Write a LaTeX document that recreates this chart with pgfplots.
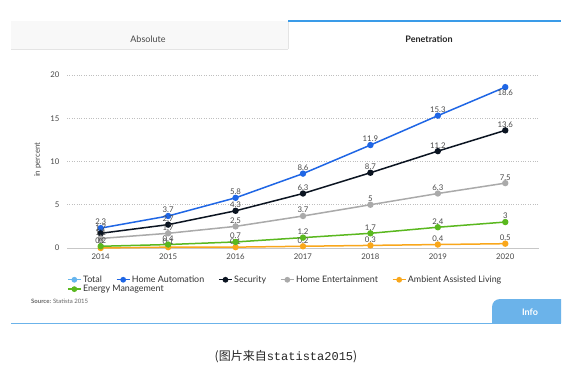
\documentclass[border=0pt]{standalone}
\usepackage{fontspec}
\setmainfont{Lato}
\newfontfamily\cjk{Noto Sans CJK SC}
\newfontfamily\monof{Liberation Mono}
\usepackage{pgfplots}
\pgfplotsset{compat=1.18}
\definecolor{cblue}{RGB}{31,102,229}
\definecolor{cnavy}{RGB}{11,20,33}
\definecolor{cgray}{RGB}{170,170,170}
\definecolor{corange}{RGB}{249,167,27}
\definecolor{cgreen}{RGB}{90,184,31}
\definecolor{ctotal}{RGB}{102,181,238}
\definecolor{ctxt}{RGB}{72,72,72}
\definecolor{tabbg}{RGB}{248,248,248}
\definecolor{tabline}{RGB}{228,228,228}
\definecolor{topblue}{RGB}{58,155,232}
\definecolor{infoc}{RGB}{107,179,234}
\begin{document}
\begin{tikzpicture}[x=1pt,y=1pt]
\useasboundingbox (0,0) rectangle (580,375);
\fill[white] (0,0) rectangle (580,375);
% card
\fill[tabbg] (11,326) rectangle (288,354);
\draw[tabline, line width=0.8pt] (11,326) -- (288,326);
\draw[tabline, line width=0.6pt] (288,326) -- (288,354);
\draw[topblue, line width=1.4pt] (288,354) -- (561,354);
\node[font=\fontsize{9}{10}\selectfont, text=ctxt] at (148,336) {Absolute};
\node[font=\fontsize{9}{10}\selectfont\bfseries, text=black!85] at (429,336) {Penetration};
% info
\fill[infoc] (492,52) -- (492,68) arc[start angle=180, end angle=90, radius=8] -- (561,76) -- (561,52) -- cycle;
\draw[infoc, line width=1pt] (11,52) -- (561,52);
\node[font=\fontsize{9}{10}\selectfont\bfseries, text=white] at (530,63) {Info};
\node[anchor=west, font=\fontsize{6}{7}\selectfont, text=black!60, inner sep=0] at (31,74) {\textbf{Source:} Statista 2015};
\node[font=\fontsize{12}{14}\selectfont, text=black!85] at (286,18) {{\cjk (图片来自}{\monof statista2015}{\cjk )}};
\begin{axis}[
  at={(67pt,127pt)}, anchor=south west,
  scale only axis, width=472pt, height=173pt,
  xmin=2013.5, xmax=2020.5, ymin=0, ymax=20,
  axis lines=left,
  y axis line style={draw=none},
  x axis line style={draw=black!22, line width=1pt, -},
  major tick length=0pt,
  xtick={2014,...,2020}, ytick={0,5,10,15,20},
  ymajorgrids, grid style={black!25, dotted, line width=0.8pt},
  /pgf/number format/assume math mode=true,
  /pgf/number format/1000 sep={},
  tick label style={font=\fontsize{7.8}{9}\selectfont, text=ctxt},
  yticklabel style={xshift=-4pt},
  xticklabel style={yshift=-2pt},
  ylabel={in percent},
  every axis y label/.style={at={(axis description cs:-0.062,0.51)}, rotate=90, anchor=center, font=\fontsize{7.8}{9}\selectfont, text=ctxt},
  clip=false,
  visualization depends on={value \thisrow{a}\as\myanchor},
  nodes near coords,
  every node near coord/.append style={anchor=\myanchor, font=\fontsize{7.8}{9}\selectfont, text=ctxt, inner sep=2.3pt},
  every axis plot/.append style={line width=1.5pt, mark=*, mark size=2.4pt},
  legend image code/.code={\draw[mark repeat=2,mark phase=2,#1,line width=1.3pt, mark size=2.2pt] plot coordinates {(0pt,0pt) (6.5pt,0pt) (13pt,0pt)};},
  legend columns=5,
  legend cell align=left,
  legend style={draw=none, fill=none, at={(axis description cs:0.0,-0.15)}, anchor=north west,
    font=\fontsize{8.9}{9.5}\selectfont, text=black!80, inner sep=0pt,
    /tikz/every even column/.append style={column sep=12.5pt},
    row sep=-1.8pt,
    nodes={inner sep=1.6pt}},
]
\addlegendimage{ctotal, line width=1.5pt, mark=*, mark size=2.4pt}
\addlegendentry{Total}
\addplot[cblue] table[row sep=\\] {x y a\\ 2014 2.3 south\\ 2015 3.7 south\\ 2016 5.8 south\\ 2017 8.6 south\\ 2018 11.9 south\\ 2019 15.3 south\\ 2020 18.6 north\\};
\addlegendentry{Home Automation}
\addplot[cnavy] table[row sep=\\] {x y a\\ 2014 1.7 south\\ 2015 2.7 south\\ 2016 4.3 south\\ 2017 6.3 south\\ 2018 8.7 south\\ 2019 11.2 south\\ 2020 13.6 south\\};
\addlegendentry{Security}
\addplot[cgray] table[row sep=\\] {x y a\\ 2014 1.1 south\\ 2015 1.7 south\\ 2016 2.5 south\\ 2017 3.7 south\\ 2018 5 south\\ 2019 6.3 south\\ 2020 7.5 south\\};
\addlegendentry{Home Entertainment}
\addplot[corange] table[row sep=\\] {x y a\\ 2014 0 south\\ 2015 0.1 south\\ 2016 0.1 south\\ 2017 0.2 south\\ 2018 0.3 south\\ 2019 0.4 south\\ 2020 0.5 south\\};
\addlegendentry{Ambient Assisted Living}
\addplot[cgreen] table[row sep=\\] {x y a\\ 2014 0.2 south\\ 2015 0.4 south\\ 2016 0.7 south\\ 2017 1.2 south\\ 2018 1.7 south\\ 2019 2.4 south\\ 2020 3 south\\};
\addlegendentry{\makebox[0pt][l]{Energy Management}}
\end{axis}
\end{tikzpicture}
\end{document}
